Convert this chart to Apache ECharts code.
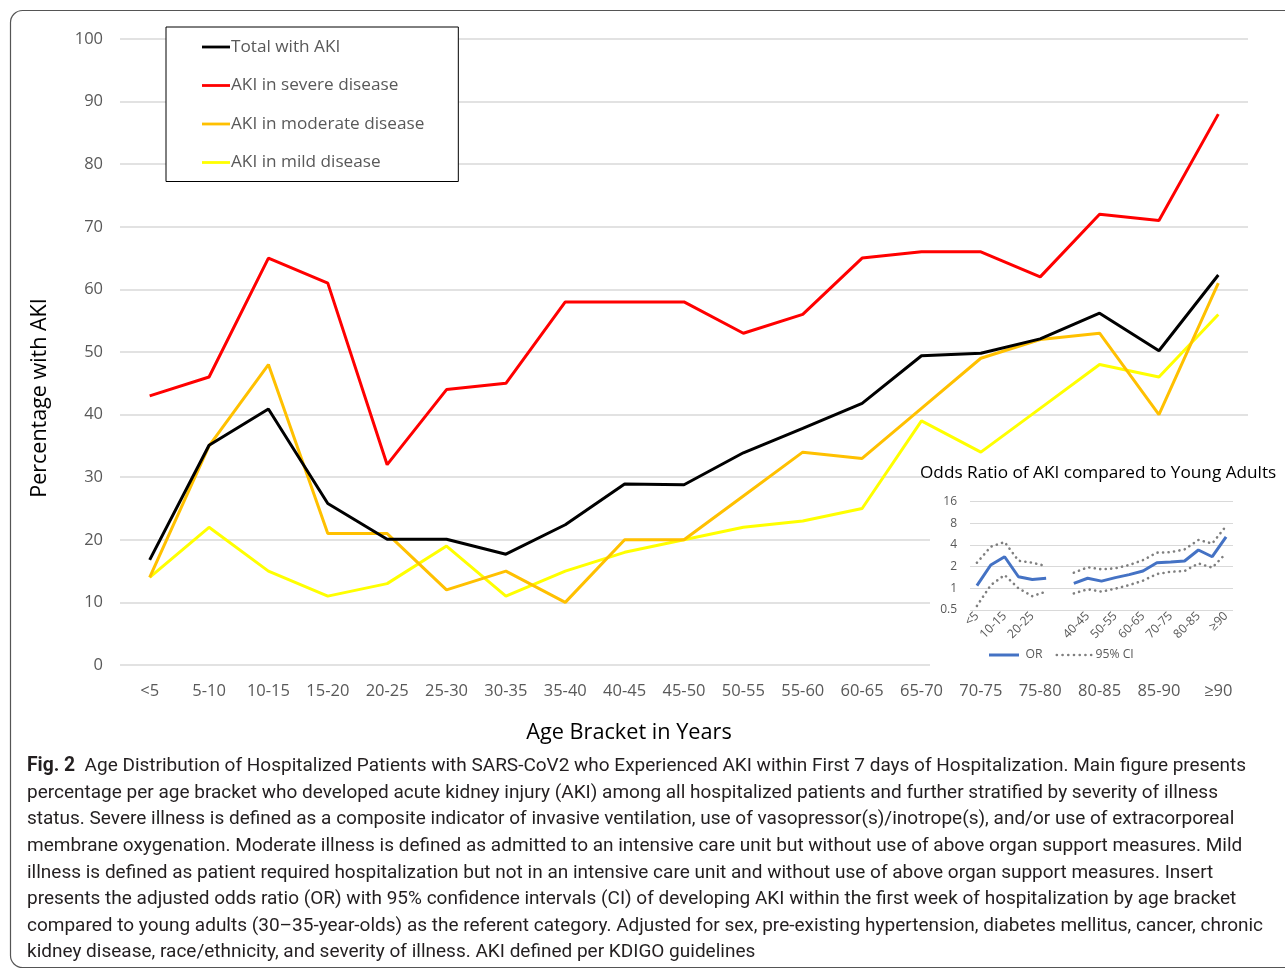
<!DOCTYPE html>
<html>
<head>
<meta charset="utf-8">
<script src="https://cdn.jsdelivr.net/npm/echarts@6/dist/echarts.min.js"></script>
<style>
  html, body { margin: 0; padding: 0; background: #fff; }
  #chart { width: 1285px; height: 970px; }
</style>
</head>
<body>
<div id="chart"></div>
<script>
// Age brackets shared by the main chart and the odds-ratio insert
const ageBrackets = ['<5', '5-10', '10-15', '15-20', '20-25', '25-30', '30-35', '35-40', '40-45',
  '45-50', '50-55', '55-60', '60-65', '65-70', '70-75', '75-80', '80-85', '85-90', '≥90'];

// Percentage with AKI per age bracket
const totalAKI    = [16.8, 35.1, 40.9, 25.8, 20.1, 20.1, 17.7, 22.4, 28.9, 28.8, 33.9, 37.8, 41.8, 49.4, 49.8, 52.1, 56.2, 50.2, 62.3];
const severeAKI   = [43, 46, 65, 61, 32, 44, 45, 58, 58, 58, 53, 56, 65, 66, 66, 62, 72, 71, 88];
const moderateAKI = [14, 35, 48, 21, 21, 12, 15, 10, 20, 20, 27, 34, 33, 41, 49, 52, 53, 40, 61];
const mildAKI     = [14, 22, 15, 11, 13, 19, 11, 15, 18, 20, 22, 23, 25, 39, 34, 41, 48, 46, 56];

// Adjusted odds ratio vs. 30-35 year olds (referent, left empty) with 95% CI
const oddsRatio = [1.09, 2.11, 2.75, 1.45, 1.33, 1.38, null, 1.17, 1.38, 1.26, 1.41, 1.55, 1.74, 2.27, 2.32, 2.40, 3.41, 2.75, 5.2];
const ciUpper   = [2.27, 3.79, 4.40, 2.42, 2.27, 2.04, null, 1.65, 1.96, 1.84, 1.90, 2.11, 2.47, 3.13, 3.18, 3.48, 4.70, 4.20, 7.35];
const ciLower   = [0.57, 1.11, 1.53, 1.00, 0.78, 0.90, null, 0.85, 0.97, 0.90, 0.99, 1.11, 1.28, 1.58, 1.70, 1.74, 2.22, 1.94, 3.07];

// Main axis tick range
const pctMin = 0, pctMax = 100, pctStep = 10;
// Insert axis range (log base 2)
const orMin = 0.5, orMax = 16;

const captionLines = [
  '{b|Fig. 2}  Age Distribution of Hospitalized Patients with SARS-CoV2 who Experienced AKI within First 7 days of Hospitalization. Main figure presents',
  'percentage per age bracket who developed acute kidney injury (AKI) among all hospitalized patients and further stratified by severity of illness',
  'status. Severe illness is defined as a composite indicator of invasive ventilation, use of vasopressor(s)/inotrope(s), and/or use of extracorporeal',
  'membrane oxygenation. Moderate illness is defined as admitted to an intensive care unit but without use of above organ support measures. Mild',
  'illness is defined as patient required hospitalization but not in an intensive care unit and without use of above organ support measures. Insert',
  'presents the adjusted odds ratio (OR) with 95% confidence intervals (CI) of developing AKI within the first week of hospitalization by age bracket',
  'compared to young adults (30–35-year-olds) as the referent category. Adjusted for sex, pre-existing hypertension, diabetes mellitus, cancer, chronic',
  'kidney disease, race/ethnicity, and severity of illness. AKI defined per KDIGO guidelines'
];

const FONT = '"Open Sans", "Noto Sans", sans-serif';
const CAP_FONT = '"Roboto", sans-serif';
const GREY = '#595959';
const GRID = '#d9d9d9';

// Legend glyphs: a solid bar and a row of round dots
const LINE_ICON = 'path://M0,0 L30,0 L30,3 L0,3 Z';
function dottedIcon(n, step, r) {
  let d = '';
  for (let k = 0; k < n; k++) {
    const cx = r + k * step;
    d += 'M' + (cx - r) + ',' + r + ' a' + r + ',' + r + ' 0 1,0 ' + (2 * r) + ',0 a' + r + ',' + r + ' 0 1,0 ' + (-2 * r) + ',0 Z ';
  }
  return 'path://' + d;
}

const chart = echarts.init(document.getElementById('chart'), null, { renderer: 'canvas' });

const captionGraphics = captionLines.map((line, i) => ({
  type: 'text',
  left: 27,
  top: 757 + i * 26.6,
  z: 10,
  style: {
    text: line,
    font: '19px ' + CAP_FONT,
    fill: '#231f20',
    rich: {
      b: { fontWeight: 'bold', fontSize: 19.3, fontFamily: CAP_FONT, fill: '#231f20' }
    }
  }
}));

const option = {
  animation: false,
  backgroundColor: '#fff',
  textStyle: { fontFamily: FONT },
  grid: [
    { left: 120, right: 37, top: 39, bottom: 305 },
    { left: 970, right: 52, top: 501.7, bottom: 360, z: 5 }
  ],
  legend: [
    {
      data: ['Total with AKI', 'AKI in severe disease', 'AKI in moderate disease', 'AKI in mild disease'],
      orient: 'vertical',
      left: 166,
      top: 27,
      padding: [10, 34, 9, 36],
      itemGap: 18.5,
      itemWidth: 28,
      itemHeight: 3,
      icon: LINE_ICON,
      borderColor: '#000',
      borderWidth: 1,
      backgroundColor: '#fff',
      textStyle: { fontSize: 17.2, lineHeight: 20, color: GREY, fontFamily: FONT, padding: [0, 0, 0, -4] },
      z: 8
    },
    {
      data: [
        { name: 'OR', icon: LINE_ICON },
        { name: '95% CI', icon: dottedIcon(7, 6, 1.4) }
      ],
      orient: 'horizontal',
      left: 984,
      top: 643,
      itemWidth: 37,
      itemHeight: 3,
      itemGap: 13,
      textStyle: { fontSize: 12.2, lineHeight: 14, color: GREY, fontFamily: FONT, padding: [0, 0, 0, -2] },
      z: 8
    }
  ],
  xAxis: [
    {
      type: 'category',
      gridIndex: 0,
      data: ageBrackets,
      boundaryGap: true,
      axisLine: { show: false },
      axisTick: { show: false },
      axisLabel: { fontSize: 16.5, color: GREY, margin: 18, interval: 0, fontFamily: FONT }
    },
    {
      type: 'category',
      gridIndex: 1,
      data: ageBrackets,
      boundaryGap: true,
      z: 5,
      axisLine: { show: false },
      axisTick: { show: false },
      axisLabel: {
        fontSize: 12.2, color: GREY, margin: 4, rotate: 45, fontFamily: FONT,
        interval: (i) => i % 2 === 0 && i !== 6
      }
    }
  ],
  yAxis: [
    {
      type: 'value',
      gridIndex: 0,
      min: pctMin, max: pctMax, interval: pctStep,
      axisLine: { show: false },
      axisTick: { show: false },
      axisLabel: { fontSize: 16.5, color: GREY, margin: 17, fontFamily: FONT },
      splitLine: { lineStyle: { color: GRID, width: 1.5 } }
    },
    {
      type: 'log',
      logBase: 2,
      gridIndex: 1,
      min: orMin, max: orMax,
      z: 5,
      axisLine: { show: false },
      axisTick: { show: false },
      axisLabel: { fontSize: 12, color: GREY, margin: 13, fontFamily: FONT },
      splitLine: { lineStyle: { color: GRID, width: 1.2 } }
    }
  ],
  series: [
    {
      name: 'Total with AKI', type: 'line', data: totalAKI, xAxisIndex: 0, yAxisIndex: 0,
      symbol: 'none', lineStyle: { color: '#000000', width: 3 }, itemStyle: { color: '#000000' }, z: 5
    },
    {
      name: 'AKI in severe disease', type: 'line', data: severeAKI, xAxisIndex: 0, yAxisIndex: 0,
      symbol: 'none', lineStyle: { color: '#ff0000', width: 3 }, itemStyle: { color: '#ff0000' }, z: 4
    },
    {
      name: 'AKI in moderate disease', type: 'line', data: moderateAKI, xAxisIndex: 0, yAxisIndex: 0,
      symbol: 'none', lineStyle: { color: '#ffc000', width: 3 }, itemStyle: { color: '#ffc000' }, z: 3
    },
    {
      name: 'AKI in mild disease', type: 'line', data: mildAKI, xAxisIndex: 0, yAxisIndex: 0,
      symbol: 'none', lineStyle: { color: '#ffff00', width: 3 }, itemStyle: { color: '#ffff00' }, z: 2
    },
    {
      name: 'OR', type: 'line', data: oddsRatio, xAxisIndex: 1, yAxisIndex: 1,
      symbol: 'none', connectNulls: false,
      lineStyle: { color: '#4472c4', width: 3 }, itemStyle: { color: '#4472c4' }, z: 7
    },
    {
      name: '95% CI', type: 'line', data: ciUpper, xAxisIndex: 1, yAxisIndex: 1,
      symbol: 'none', connectNulls: false,
      lineStyle: { color: '#7f7f7f', width: 2.6, type: [0.1, 5.4], cap: 'round' },
      itemStyle: { color: '#7f7f7f' }, z: 6
    },
    {
      name: '95% CI', type: 'line', data: ciLower, xAxisIndex: 1, yAxisIndex: 1,
      symbol: 'none', connectNulls: false,
      lineStyle: { color: '#7f7f7f', width: 2.6, type: [0.1, 5.4], cap: 'round' },
      itemStyle: { color: '#7f7f7f' }, z: 6
    }
  ],
  graphic: [
    // panel border with rounded corners
    {
      type: 'rect', z: 1, silent: true,
      shape: { x: 10.5, y: 10.5, width: 1320, height: 957, r: 12 },
      style: { fill: null, stroke: '#555', lineWidth: 1.2 }
    },
    // white backing behind the odds-ratio insert
    {
      type: 'rect', z: 4, silent: true,
      shape: { x: 930, y: 459, width: 330, height: 213 },
      style: { fill: '#fff' }
    },
    {
      type: 'text', x: 920, y: 473, z: 8,
      style: { text: 'Odds Ratio of AKI compared to Young Adults', font: '17.2px ' + FONT, fill: '#000', verticalAlign: 'middle' }
    },
    // axis titles
    {
      type: 'text', x: 629, y: 733, z: 8,
      style: { text: 'Age Bracket in Years', font: '21.7px ' + FONT, fill: '#000', align: 'center', verticalAlign: 'middle' }
    },
    {
      type: 'text', x: 40, y: 398, rotation: Math.PI / 2, z: 8,
      style: { text: 'Percentage with AKI', font: '21.5px ' + FONT, fill: '#000', align: 'center', verticalAlign: 'middle' }
    }
  ].concat(captionGraphics)
};

chart.setOption(option);
</script>
</body>
</html>
